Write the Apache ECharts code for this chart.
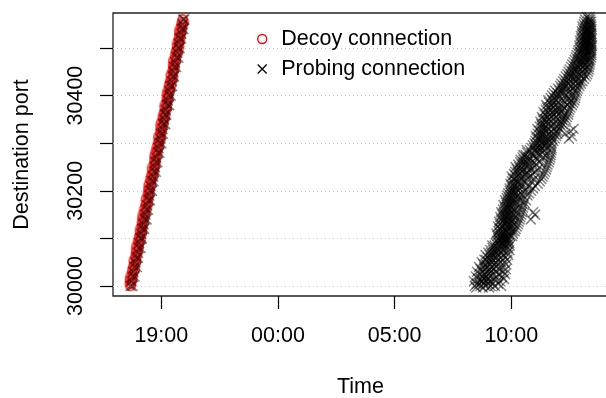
<!DOCTYPE html>
<html>
<head>
<meta charset="utf-8">
<script src="https://cdn.jsdelivr.net/npm/echarts@6/dist/echarts.min.js"></script>
<style>html,body{margin:0;padding:0;background:#fff}#c{width:606px;height:398px}</style>
</head>
<body>
<div id="c"></div>
<script>
// Decoy connections: port, and two connection times (minute of day 1) per port
const decoyPorts = [30000,30005,30010,30015,30020,30025,30030,30035,30040,30045,30050,30055,30060,30065,30070,30075,30080,30085,30090,30095,
30100,30105,30110,30115,30120,30125,30130,30135,30140,30145,30150,30155,30160,30165,30170,30175,30180,30185,30190,30195,
30200,30205,30210,30215,30220,30225,30230,30235,30240,30245,30250,30255,30260,30265,30270,30275,30280,30285,30290,30295,
30300,30305,30310,30315,30320,30325,30330,30335,30340,30345,30350,30355,30360,30365,30370,30375,30380,30385,30390,30395,
30400,30405,30410,30415,30420,30425,30430,30435,30440,30445,30450,30455,30460,30465,30470,30475,30480,30485,30490,30495,
30500,30505,30510,30515,30520,30525,30530,30535,30540,30545,30550,30555,30560];
const decoyMinutesA = [1059,1063,1059,1066,1060,1067,1070,1066,1069,1074,1069,1075,1073,1074,1079,1075,1082,1076,1082,1086,
1082,1085,1090,1085,1091,1089,1090,1094,1091,1098,1092,1098,1102,1098,1101,1106,1100,1107,1105,1106,
1110,1107,1114,1108,1114,1117,1114,1117,1122,1116,1123,1121,1122,1126,1122,1130,1124,1130,1133,1130,
1133,1138,1132,1138,1137,1138,1142,1138,1146,1140,1146,1149,1145,1149,1154,1148,1154,1152,1154,1158,
1154,1161,1156,1162,1165,1161,1164,1170,1164,1170,1168,1170,1174,1170,1177,1171,1178,1181,1177,1180,
1186,1180,1186,1184,1185,1190,1186,1193,1187,1194,1197,1193,1196];
const decoyMinutesB = [1062,1059,1063,1059,1066,1065,1064,1072,1067,1070,1075,1069,1076,1078,1075,1079,1075,1082,1080,1080,
1088,1083,1086,1091,1085,1092,1094,1090,1095,1091,1098,1096,1095,1104,1099,1102,1106,1101,1108,1110,
1106,1110,1107,1114,1112,1111,1120,1115,1118,1122,1116,1124,1126,1122,1126,1123,1130,1128,1127,1135,
1131,1134,1138,1132,1140,1142,1138,1142,1138,1146,1144,1143,1151,1147,1150,1154,1148,1155,1158,1154,
1158,1154,1162,1160,1159,1167,1162,1166,1170,1164,1171,1174,1170,1174,1170,1177,1176,1175,1183,1178,
1181,1186,1180,1187,1189,1186,1190,1186,1193,1191,1191,1199,1194];

// Probing connections during the decoy period: [port, minutes of day 1...]
const probeEarly = [
[30000,1061,1066],[30010,1063],[30020,1066,1071],[30030,1068],[30040,1071,1077],[30050,1073],[30060,1076,1080],
[30070,1080],[30080,1082,1087],[30090,1083],[30100,1086,1090],[30110,1088],[30120,1091,1096],[30130,1094],
[30140,1097,1102],[30150,1099],[30160,1101,1106],[30170,1103],[30180,1107,1111],[30190,1109],[30200,1111,1116],
[30210,1113],[30220,1115,1120],[30230,1119],[30240,1121,1126],[30250,1123],[30260,1125,1130],[30270,1127],
[30280,1131,1135],[30290,1133],[30300,1135,1140],[30310,1137],[30320,1139,1144],[30330,1143],[30340,1145,1150],
[30350,1147],[30360,1149,1153],[30370,1151],[30380,1155,1160],[30390,1157],[30400,1159,1164],[30410,1160],
[30420,1163,1168],[30430,1167],[30440,1169,1173],[30450,1171],[30460,1173,1178],[30470,1175],[30480,1179,1184],
[30490,1181],[30500,1183,1187],[30510,1184],[30520,1187,1191],[30530,1191],[30540,1193,1197],[30550,1195],[30560,1196,1199]
];

// Probing connections next morning: [port, minutes of day 2...]
const probeLate = [
[29997,510,527,543],
[30000,506,521,533,547,558,574],[30005,511,518,540,529,566,552],[30010,504,536,525,549,571,543],[30015,515,530,557,539,581,522],
[30020,509,544,527,563,535,576],[30025,519,531,552,541,568,584],[30030,526,512,547,538,560,579],[30035,533,521,554,545,570,586],
[30040,517,539,530,561,551,577],[30045,528,546,536,565,556,587],[30050,524,541,560,549,573,583],[30055,535,552,531,566,545,589],
[30060,539,557,547,574,563,584],[30065,534,551,565,544,580,592],[30070,548,541,562,575,556,590],[30075,546,561,553,578,569,595],
[30080,552,566,559,583,574,592],[30085,557,570,551,586,579,596],[30090,560,568,576,589,582,595],[30095,563,572,580,586,592,569],
[30100,566,575,584,578,593,588],[30105,564,573,587,581,597,602],[30110,570,562,584,593,578,604],[30115,567,579,591,585,603,609],
[30120,572,582,569,597,590,611],[30125,575,566,588,600,594,614],[30130,571,583,596,589,607,617],[30135,578,569,592,601,587,619],
[30140,574,590,582,604,597,621,650],[30145,580,572,595,587,610,623],[30150,577,593,584,606,599,625,661],[30155,581,574,598,590,614,627,656],
[30160,585,596,579,608,602,628],[30165,583,592,600,589,617,630],[30170,588,580,603,597,621,632],[30175,586,599,592,611,605,634],
[30180,591,584,607,600,624,638],[30185,594,588,610,603,627,619],[30190,590,605,597,616,630,642],[30195,599,592,612,623,607,646],
[30200,596,608,618,602,635,651],[30205,603,596,621,613,640,656],[30210,600,615,627,608,646,661],[30215,606,598,624,638,617,668],
[30220,602,619,633,612,652,673],[30225,609,625,604,641,659,677],[30230,613,601,630,647,622,680],[30235,607,621,636,655,643,683],
[30240,617,610,640,628,662,686],[30245,614,632,623,650,668,689],[30250,620,611,638,657,645,691],[30255,627,618,645,636,664,693],
[30260,623,640,631,659,674,696],[30265,632,624,650,667,643,698],[30270,629,646,638,664,681,700],[30275,637,655,631,672,689,701],
[30280,641,652,664,679,671,702],[30285,648,640,662,683,675,703],[30290,652,667,659,678,693,704],[30295,656,664,673,688,681,702],
[30300,660,669,678,692,686,704],[30305,662,674,683,697,690,708],[30310,665,677,671,693,704,712,748],[30315,663,681,690,675,702,715,756],
[30320,668,684,676,697,710,718,739],[30325,671,687,679,702,715,721,752],[30330,667,682,694,688,711,725,760],[30335,673,689,680,705,719,729],
[30340,677,694,685,709,724,732],[30345,675,690,700,713,727,736],[30350,681,697,688,718,731,740],[30355,679,702,693,715,734,743],
[30360,686,699,710,722,737,746],[30365,683,705,695,727,716,747],[30370,689,702,714,731,724,749],[30375,692,708,699,735,722,752],
[30380,690,712,704,729,744,756],[30385,697,709,720,739,750,759],[30390,695,715,706,733,754,762],[30395,701,719,711,741,748,764],
[30400,705,723,716,738,757,765],[30405,709,726,719,747,736,767],[30410,713,731,724,751,762,769],[30415,720,735,744,729,758,771],
[30420,726,741,734,755,766,775],[30425,729,746,738,761,772,779],[30430,733,750,741,765,777,783],[30435,736,747,758,771,764,787],
[30440,740,755,749,768,781,792],[30445,744,760,752,774,786,795],[30450,747,763,771,757,783,797],[30455,750,767,761,779,790,799],
[30460,754,770,764,784,795,800],[30465,757,775,768,789,782,801],[30470,760,773,781,794,788,802],[30475,763,778,771,791,799,803],
[30480,766,782,775,796,789,805],[30485,768,780,787,798,793,806],[30490,771,785,778,800,794,806],[30495,773,788,782,797,803,806],
[30500,776,786,793,801,789,805],[30505,775,790,783,798,804,807],[30510,778,787,795,802,791,806],[30515,777,792,785,799,805,796],
[30520,780,789,797,803,793,807],[30525,779,794,786,800,806,798],[30530,782,791,799,804,795,806],[30535,781,796,788,801,805,793],
[30540,784,793,800,806,797],[30545,783,798,790,803,806],[30550,786,795,801,805],[30555,788,797,802,805],
[30560,790,799,803],[30565,794,801]
];

// Axis ticks (x in hours since midnight of day 1)
const xTickValues = [19, 24, 29, 34];
const xTickLabels = ['19:00', '00:00', '05:00', '10:00'];
const yTickValues = [30000, 30100, 30200, 30300, 30400, 30500];
const yLabelValues = [30000, 30200, 30400];

const decoyData = [];
decoyPorts.forEach((p, i) => {
  decoyData.push([decoyMinutesA[i] / 60, p]);
  decoyData.push([decoyMinutesB[i] / 60, p]);
});
const probeData = [];
probeEarly.forEach(r => { for (let k = 1; k < r.length; k++) probeData.push([r[k] / 60, r[0]]); });
probeLate.forEach(r => { for (let k = 1; k < r.length; k++) probeData.push([24 + r[k] / 60, r[0]]); });

const FONT = "'Liberation Sans', Arial, Helvetica, sans-serif";
const FS = 21.5;
const crossPath = 'path://M0,0L10,10M10,0L0,10';

const chart = echarts.init(document.getElementById('c'), null, {renderer: 'canvas'});
chart.setOption({
  animation: false,
  backgroundColor: '#ffffff',
  textStyle: {fontFamily: FONT},
  grid: {left: 113, top: 13, right: -2, bottom: 102, show: true, borderColor: '#222', borderWidth: 1.3,
    backgroundColor: 'transparent', outerBoundsMode: 'none', containLabel: false},
  legend: {
    orient: 'vertical', left: 257, top: 24, padding: 0, itemGap: 0,
    itemWidth: 28, itemHeight: 9, symbolKeepAspect: true,
    textStyle: {fontFamily: FONT, fontSize: FS, color: '#000', lineHeight: 30},
    data: [
      {name: 'Decoy connection', icon: 'circle', itemStyle: {color: 'transparent', borderColor: '#ff0000', borderWidth: 1.4, opacity: 1}},
      {name: 'Probing connection', icon: crossPath, itemStyle: {color: 'transparent', borderColor: '#000000', borderWidth: 1.3, opacity: 1}}
    ]
  },
  xAxis: {
    type: 'value', min: 16.930, max: 38.145,
    name: 'Time', nameLocation: 'middle', nameGap: 80,
    nameTextStyle: {fontFamily: FONT, fontSize: FS, color: '#000'},
    axisLine: {show: false},
    axisTick: {show: true, inside: false, length: 13, customValues: xTickValues, lineStyle: {color: '#000', width: 1.2}},
    axisLabel: {customValues: xTickValues, margin: 29, fontFamily: FONT, fontSize: FS, color: '#000',
      formatter: v => { const i = xTickValues.indexOf(Math.round(v)); return i >= 0 ? xTickLabels[i] : ''; }},
    splitLine: {show: false}
  },
  yAxis: {
    type: 'value', min: 29979, max: 30573.5,
    name: 'Destination port', nameLocation: 'middle', nameGap: 80,
    nameTextStyle: {fontFamily: FONT, fontSize: FS, color: '#000'},
    axisLine: {show: false},
    axisTick: {show: true, inside: false, length: 13, customValues: yTickValues, lineStyle: {color: '#000', width: 1.2}},
    axisLabel: {customValues: yLabelValues, rotate: 90, margin: 26, fontFamily: FONT, fontSize: FS, color: '#000',
      formatter: v => String(v)},
    splitLine: {show: true, lineStyle: {color: '#c8c8c8', width: 1, type: [1, 3]}}
  },
  series: [
    {
      name: 'Decoy connection', type: 'scatter', data: decoyData,
      symbol: 'circle', symbolSize: 9, progressive: 0, silent: true,
      itemStyle: {color: 'transparent', borderColor: 'rgba(255,0,0,0.58)', borderWidth: 1.7}
    },
    {
      name: 'Probing connection', type: 'scatter', data: probeData,
      symbol: crossPath, symbolSize: 10, progressive: 0, silent: true,
      itemStyle: {color: 'transparent', borderColor: 'rgba(0,0,0,0.6)', borderWidth: 1.5}
    }
  ]
});
</script>
</body>
</html>
